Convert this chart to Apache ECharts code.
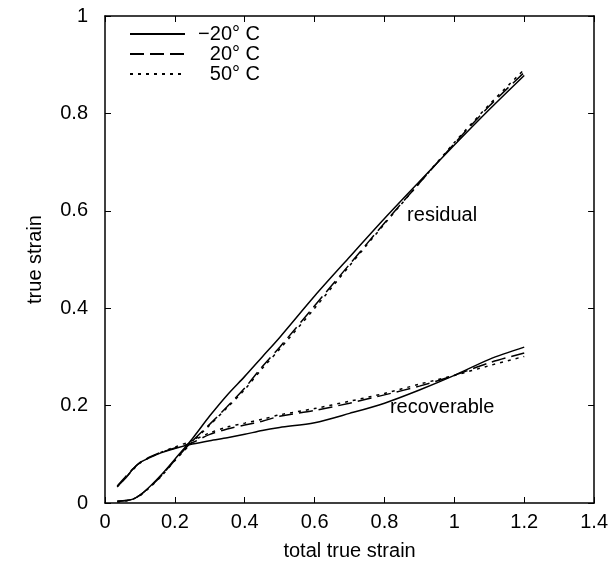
<!DOCTYPE html>
<html>
<head>
<meta charset="utf-8">
<script src="https://cdn.jsdelivr.net/npm/echarts@6/dist/echarts.min.js"></script>
<style>
html,body{margin:0;padding:0;background:#fff;}
#c{width:611px;height:566px;}
</style>
</head>
<body>
<div id="c"></div>
<script>
// ---- data ----
var xs = [0.035, 0.06, 0.08, 0.1, 0.13, 0.16, 0.2, 0.25, 0.3, 0.35, 0.4, 0.45, 0.5, 0.6, 0.7, 0.8, 0.9, 1.0, 1.1, 1.2];
var residualM20 = [0.004, 0.005, 0.008, 0.016, 0.035, 0.057, 0.09, 0.132, 0.179, 0.222, 0.26, 0.3, 0.34, 0.425, 0.505, 0.584, 0.66, 0.735, 0.808, 0.878];
var residual20  = [0.003, 0.005, 0.008, 0.016, 0.034, 0.055, 0.088, 0.127, 0.162, 0.198, 0.236, 0.28, 0.32, 0.405, 0.49, 0.575, 0.657, 0.738, 0.815, 0.884];
var residual50  = [0.002, 0.004, 0.008, 0.015, 0.033, 0.054, 0.087, 0.125, 0.16, 0.196, 0.233, 0.276, 0.316, 0.4, 0.487, 0.573, 0.657, 0.74, 0.818, 0.89];
var recovM20 = [0.034, 0.052, 0.07, 0.083, 0.094, 0.103, 0.112, 0.121, 0.128, 0.134, 0.141, 0.149, 0.155, 0.165, 0.184, 0.205, 0.232, 0.262, 0.295, 0.32];
var recov20  = [0.035, 0.055, 0.07, 0.083, 0.095, 0.104, 0.113, 0.124, 0.141, 0.152, 0.16, 0.168, 0.178, 0.19, 0.205, 0.222, 0.24, 0.262, 0.288, 0.308];
var recov50  = [0.033, 0.053, 0.068, 0.082, 0.094, 0.104, 0.115, 0.128, 0.144, 0.156, 0.164, 0.172, 0.181, 0.194, 0.209, 0.225, 0.244, 0.262, 0.282, 0.301];
var seriesNames = ['\u221220\u00b0 C', '20\u00b0 C', '50\u00b0 C'];
var xTicks = [0, 0.2, 0.4, 0.6, 0.8, 1, 1.2, 1.4];
var yTicks = [0, 0.2, 0.4, 0.6, 0.8, 1];
var annotations = [
  {text: 'residual', x: 0.965, y: 0.59},
  {text: 'recoverable', x: 0.965, y: 0.196}
];

function pairs(ys){ return xs.map(function(x,i){ return [x, ys[i]]; }); }

var FONT = 'Liberation Sans, Arial, Helvetica, sans-serif';
var FS = 20;
var dashes = ['solid', [14, 6], [3, 5]];
var resid = [residualM20, residual20, residual50];
var recov = [recovM20, recov20, recov50];

var series = [];
for (var k = 0; k < 3; k++) {
  [resid[k], recov[k]].forEach(function(arr){
    series.push({
      type: 'line',
      name: seriesNames[k],
      data: pairs(arr),
      symbol: 'none',
      smooth: 0.3,
      silent: true,
      lineStyle: {color: '#000', width: 1.5, type: dashes[k]},
      itemStyle: {color: '#000'}
    });
  });
}

var axisCommon = {
  type: 'value',
  axisLine: {show: true, onZero: false, lineStyle: {color: '#000', width: 1.5}},
  axisTick: {show: true, inside: true, length: 6, lineStyle: {color: '#000', width: 1}},
  splitLine: {show: false}
};

var chart = echarts.init(document.getElementById('c'), null, {renderer: 'canvas'});
var option = {
  animation: false,
  backgroundColor: '#fff',
  textStyle: {fontFamily: FONT},
  grid: {left: 105, right: 16, top: 16, bottom: 62, containLabel: false},
  legend: {
    data: seriesNames,
    orient: 'vertical',
    left: 124,
    top: 19,
    itemWidth: 55,
    itemHeight: 14,
    itemGap: 0,
    itemStyle: {opacity: 0},
    formatter: function(n){ return '{a|' + n + '}'; },
    textStyle: {
      fontFamily: FONT, fontSize: FS, color: '#000', lineHeight: 20,
      rich: {a: {width: 70, align: 'right', fontSize: FS, lineHeight: 20, fontFamily: FONT, color: '#000'}}
    }
  },
  xAxis: [
    Object.assign({}, axisCommon, {
      min: 0, max: 1.4, interval: 0.2, position: 'bottom',
      name: 'total true strain', nameLocation: 'middle', nameGap: 38,
      nameTextStyle: {fontSize: FS, color: '#000', fontFamily: FONT},
      axisLabel: {color: '#000', fontSize: FS, fontFamily: FONT, margin: 9,
        formatter: function(v){ var t = xTicks.filter(function(a){return Math.abs(a-v)<1e-9;}); return t.length ? String(t[0]) : ''; }}
    }),
    Object.assign({}, axisCommon, {
      min: 0, max: 1.4, interval: 0.2, position: 'top', axisLabel: {show: false}
    })
  ],
  yAxis: [
    Object.assign({}, axisCommon, {
      min: 0, max: 1, interval: 0.2, position: 'left',
      name: 'true strain', nameLocation: 'middle', nameGap: 60,
      nameTextStyle: {fontSize: FS, color: '#000', fontFamily: FONT},
      axisLabel: {color: '#000', fontSize: FS, fontFamily: FONT, margin: 17,
        formatter: function(v){ var t = yTicks.filter(function(a){return Math.abs(a-v)<1e-9;}); return t.length ? String(t[0]) : ''; }}
    }),
    Object.assign({}, axisCommon, {
      min: 0, max: 1, interval: 0.2, position: 'right', axisLabel: {show: false}
    })
  ],
  series: series
};
chart.setOption(option);

var g = annotations.map(function(a){
  var p = chart.convertToPixel({xAxisIndex: 0, yAxisIndex: 0}, [a.x, a.y]);
  return {
    type: 'text', x: p[0], y: p[1], silent: true,
    style: {text: a.text, fontSize: FS, fontFamily: FONT, fill: '#000', align: 'center', verticalAlign: 'middle'}
  };
});
chart.setOption({graphic: g});
</script>
</body>
</html>
